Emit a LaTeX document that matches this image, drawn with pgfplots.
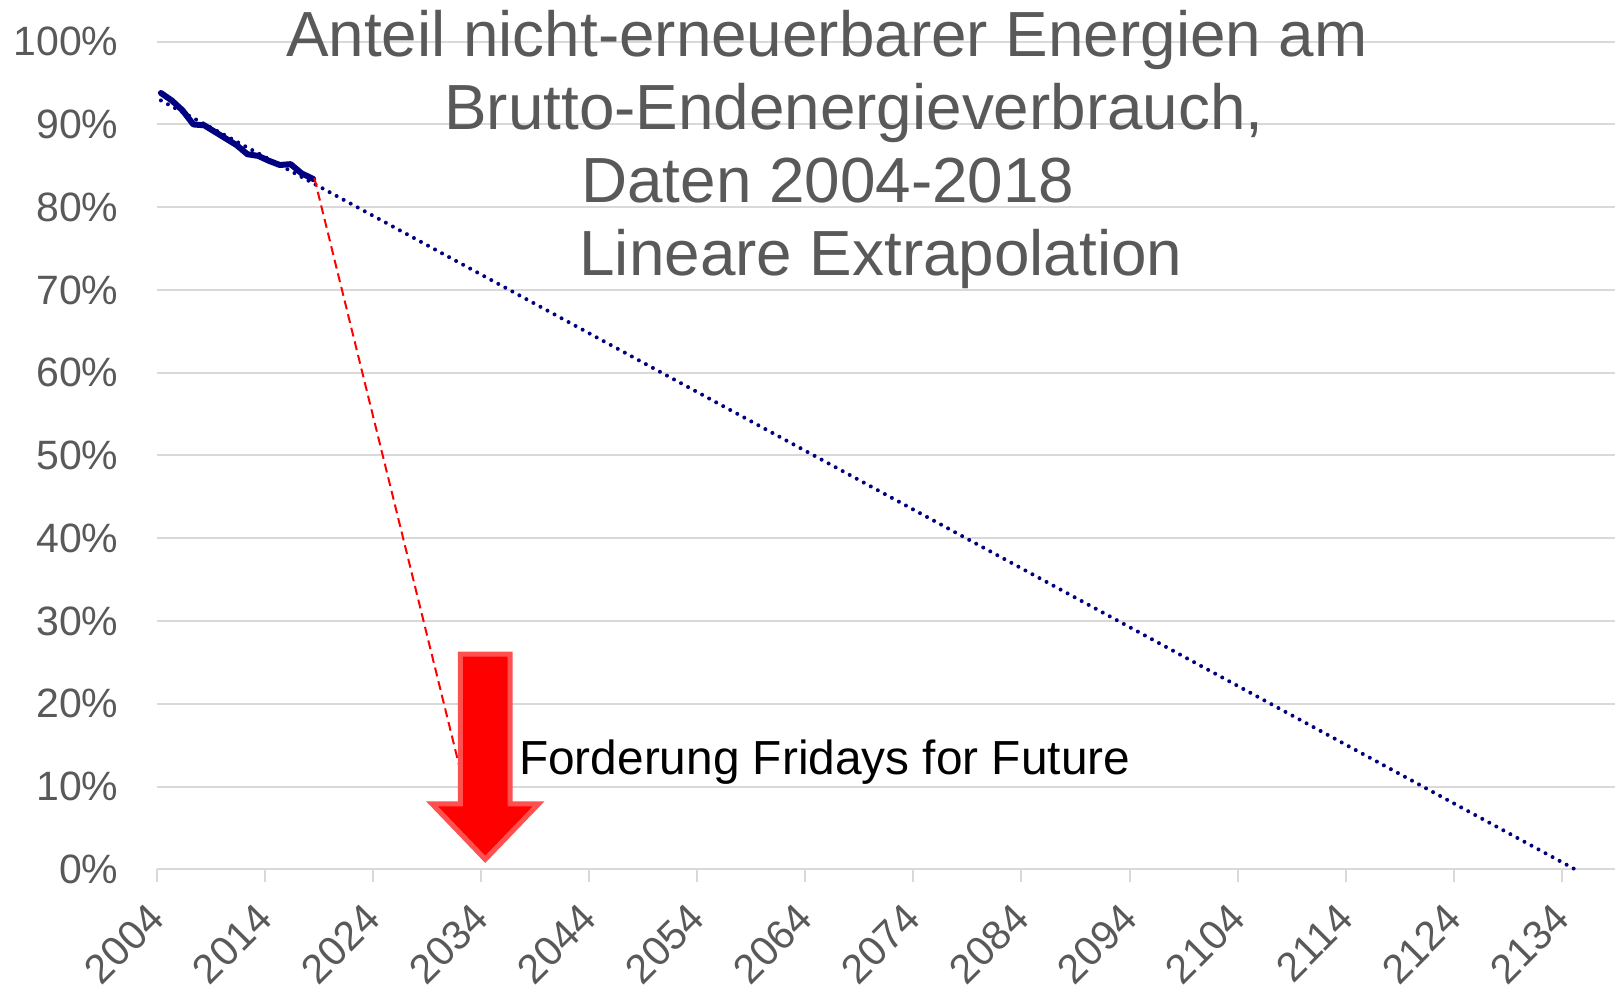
\documentclass[border=0pt]{standalone}
\usepackage{fontspec}
\setmainfont{Liberation Sans}
\usepackage{pgfplots}
\pgfplotsset{compat=1.18}
\definecolor{gridc}{RGB}{217,217,217}
\definecolor{txtc}{RGB}{89,89,89}
\definecolor{navyc}{RGB}{0,0,128}
\definecolor{arrowb}{RGB}{255,80,80}
\begin{document}
\begin{tikzpicture}
\begin{axis}[
  at={(0,0)}, anchor=south west,
  scale only axis, width=729.2pt, height=413.8pt,
  xmin=2004, xmax=2138.9, ymin=0, ymax=100,
  xtick={2004,2014,...,2134}, ytick={0,10,...,100},
  axis lines*=left,
  y axis line style={draw=none},
  x axis line style={gridc, line width=1pt},
  ymajorgrids, grid style={gridc, line width=1pt},
  tick align=outside, major tick length=6.5pt,
  xtick style={gridc, line width=1pt},
  ytick style={draw=none},
  /pgf/number format/assume math mode=true,
  /pgf/number format/1000 sep={},
  yticklabel={\pgfmathprintnumber{\tick}\%},
  ticklabel style={font=\fontsize{20.5}{24}\selectfont, text=txtc},
  yticklabel style={anchor=east, inner sep=0pt},
  yticklabel shift=12.4pt,
  xticklabel style={rotate=45, anchor=east, inner sep=0pt},
  xticklabel shift=14.5pt,
  clip=false,
]
% linear trend (extrapolation)
\addplot[navyc, line width=2pt, dash pattern=on 0pt off 4pt, line cap=round] coordinates {(2004.4,92.9) (2135.2,0)};
% data 2004-2018
\addplot[navyc, line width=3pt, line join=round, line cap=round] coordinates {
(2004.4,93.8) (2005.4,92.9) (2006.4,91.7) (2007.4,90.0) (2008.4,89.9)
(2009.4,89.1) (2010.4,88.3) (2011.4,87.5) (2012.4,86.4) (2013.4,86.2)
(2014.4,85.6) (2015.4,85.1) (2016.4,85.2) (2017.4,84.1) (2018.5,83.4)};
% red dashed
\addplot[red, line width=1pt, dash pattern=on 4.5pt off 2.5pt] coordinates {(2018.6,83.5) (2032.2,11.4)};
% arrow
\addplot[fill=red, draw=arrowb, line width=2.5pt, line join=miter] coordinates {
(2032.11,26.0) (2036.69,26.0) (2036.69,7.9) (2039.33,7.9) (2034.4,1.2) (2029.48,7.9) (2032.11,7.9)} -- cycle;
\node[anchor=base, font=\fontsize{31.9}{36}\selectfont, text=txtc] at (axis cs:2066.0,98.19) {Anteil nicht-erneuerbarer Energien am};
\node[anchor=base, font=\fontsize{31.9}{36}\selectfont, text=txtc] at (axis cs:2068.5,89.42) {Brutto-Endenergieverbrauch,};
\node[anchor=base, font=\fontsize{31.9}{36}\selectfont, text=txtc] at (axis cs:2066.1,80.55) {Daten 2004-2018};
\node[anchor=base, font=\fontsize{31.9}{36}\selectfont, text=txtc] at (axis cs:2071.0,71.69) {Lineare Extrapolation};
\node[anchor=base west, inner sep=0pt, font=\fontsize{23.9}{28}\selectfont, text=black] at (axis cs:2037.5,11.45) {Forderung Fridays for Future};
\end{axis}
\pgfresetboundingbox
\path (-78.3pt,-59.35pt) rectangle (729.2pt,434.65pt);
\end{tikzpicture}
\end{document}
